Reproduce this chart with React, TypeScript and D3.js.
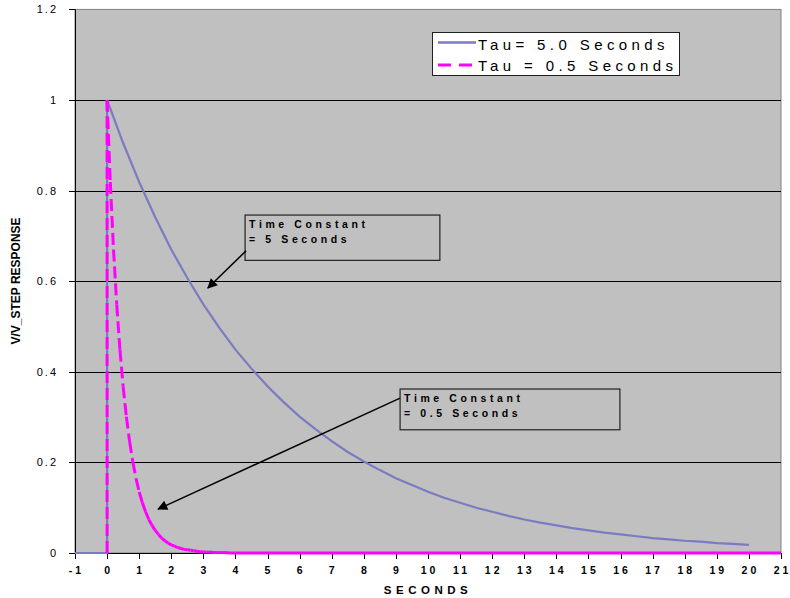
import React from "react";
import * as d3 from "d3";

// ---- data ----
const xTicks = [-1, 0, 1, 2, 3, 4, 5, 6, 7, 8, 9, 10, 11, 12, 13, 14, 15, 16, 17, 18, 19, 20, 21];
const yTicks = [0, 0.2, 0.4, 0.6, 0.8, 1, 1.2];
const yTickLabels = ["0", "0.2", "0.4", "0.6", "0.8", "1", "1.2"];

// Tau = 5.0 s series
const tau5X = [-1, 0, 0, 0.5, 1, 1.5, 2, 2.5, 3, 3.5, 4, 4.5, 5, 5.5, 6, 6.5, 7, 7.5, 8, 8.5, 9, 9.5, 10,
  10.5, 11, 11.5, 12, 12.5, 13, 13.5, 14, 14.5, 15, 15.5, 16, 16.5, 17, 17.5, 18, 18.5, 19, 19.5, 20];
const tau5Y = [0, 0, 1, 0.905, 0.819, 0.741, 0.67, 0.607, 0.549, 0.497, 0.449, 0.407, 0.368, 0.333, 0.301,
  0.273, 0.247, 0.223, 0.202, 0.183, 0.165, 0.15, 0.135, 0.122, 0.111, 0.1, 0.091, 0.082, 0.074, 0.067,
  0.061, 0.055, 0.05, 0.045, 0.041, 0.037, 0.033, 0.03, 0.027, 0.025, 0.022, 0.02, 0.018];

// Tau = 0.5 s series
const tau05X = [0, 0, 0.1, 0.2, 0.3, 0.4, 0.5, 0.6, 0.7, 0.8, 0.9, 1.0, 1.1, 1.2, 1.3, 1.4, 1.5, 1.6, 1.7,
  1.8, 1.9, 2.0, 2.1, 2.2, 2.3, 2.4, 2.5, 2.6, 2.7, 2.8, 2.9, 3.0, 3.1, 3.2, 3.3, 3.4, 3.5, 3.6, 3.7, 3.8,
  3.9, 4.0, 21];
const tau05Y = [0, 1, 0.819, 0.67, 0.549, 0.449, 0.368, 0.301, 0.247, 0.202, 0.165, 0.135, 0.111, 0.091,
  0.074, 0.061, 0.05, 0.041, 0.033, 0.027, 0.022, 0.018, 0.015, 0.012, 0.01, 0.008, 0.007, 0.006, 0.005,
  0.004, 0.003, 0.002, 0.002, 0.002, 0.001, 0.001, 0.001, 0.001, 0.001, 0, 0, 0, 0];

const seriesNames = ["Tau= 5.0 Seconds", "Tau = 0.5 Seconds"];
const seriesColors = ["#7b7bc2", "#ff00ff"];

// annotations in data units
const annotations = [
  { lines: ["Time Constant", "= 5 Seconds"], x0: 4.3, x1: 10.37, y0: 0.746, y1: 0.646, ax: 4.33, ay: 0.667, bx: 3.14, by: 0.585 },
  { lines: ["Time Constant", "= 0.5 Seconds"], x0: 9.13, x1: 15.98, y0: 0.362, y1: 0.272, ax: 9.13, ay: 0.342, bx: 1.59, by: 0.097 },
];

const W = 790;
const H = 598;
const L = 75, R = 781, T = 9.4, B = 553;

export default function App() {
  const x = d3.scaleLinear().domain([-1, 21]).range([L, R]);
  const y = d3.scaleLinear().domain([0, 1.2]).range([B, T]);
  const font = "'Liberation Sans', Arial, sans-serif";

  const line = d3.line<number>().x((d, i) => x(tau5X[i])).y((d) => y(d));

  // Excel restarts the dash pattern at every data point; emulate per segment.
  const magSegs: { x1: number; y1: number; x2: number; y2: number; dashed: boolean }[] = [];
  for (let i = 1; i < tau05X.length; i++) {
    const x1 = x(tau05X[i - 1]), y1 = y(tau05Y[i - 1]), x2 = x(tau05X[i]), y2 = y(tau05Y[i]);
    const flat = tau05Y[i - 1] === 0 && tau05Y[i] === 0;
    magSegs.push({ x1, y1, x2, y2, dashed: !flat });
  }

  return (
    <svg width={W} height={H} style={{ position: "absolute", left: 0, top: 0, background: "#fff" }} fontFamily={font}>
      <defs>
        <marker id="arr" viewBox="0 0 10 10" refX="9" refY="5" markerWidth="14" markerHeight="10" markerUnits="userSpaceOnUse" orient="auto">
          <path d="M0,0 L10,5 L0,10 z" fill="#000" />
        </marker>
      </defs>
      <rect x={L} y={T} width={R - L} height={B - T} fill="#c0c0c0" stroke="#808080" strokeWidth={1} />
      {yTicks.filter((v) => v > 0 && v < 1.2).map((v) => (
        <line key={v} x1={L} x2={R} y1={Math.round(y(v)) + 0.5} y2={Math.round(y(v)) + 0.5} stroke="#000" strokeWidth={1} />
      ))}
      {/* axes */}
      <line x1={L + 0.5} x2={L + 0.5} y1={T} y2={B} stroke="#000" strokeWidth={1} />
      <line x1={L} x2={R} y1={B + 0.5} y2={B + 0.5} stroke="#000" strokeWidth={1} />
      {yTicks.map((v, i) => (
        <g key={"yt" + v}>
          <line x1={L - 6} x2={L} y1={Math.round(y(v)) + 0.5} y2={Math.round(y(v)) + 0.5} stroke="#000" />
          <text x={58} y={y(v) + 4} textAnchor="end" fontSize={11} letterSpacing={2} fill="#000">{yTickLabels[i]}</text>
        </g>
      ))}
      {xTicks.map((v) => (
        <g key={"xt" + v}>
          <line x1={Math.round(x(v)) + 0.5} x2={Math.round(x(v)) + 0.5} y1={B} y2={B + 6} stroke="#000" />
          <text x={x(v) + 1.5} y={574} textAnchor="middle" fontSize={10.5} fontWeight="bold" letterSpacing={3} fill="#000">{String(v)}</text>
        </g>
      ))}
      <text x={428} y={594} textAnchor="middle" fontSize={11.5} fontWeight="bold" letterSpacing={4.5} fill="#000">SECONDS</text>
      <text transform={`translate(20,${281}) rotate(-90)`} textAnchor="middle" fontSize={12} fontWeight="bold" fill="#000">V/V_STEP RESPONSE</text>

      {/* series */}
      <path d={line(tau5Y) || ""} fill="none" stroke={seriesColors[0]} strokeWidth={2.2} />
      {magSegs.map((s, i) => (
        <line key={"m" + i} x1={s.x1} y1={s.y1} x2={s.x2} y2={s.y2} stroke={seriesColors[1]} strokeWidth={3}
          strokeDasharray={s.dashed ? "12,5" : undefined} />
      ))}

      {/* annotations */}
      {annotations.map((a, i) => (
        <g key={"an" + i}>
          <rect x={x(a.x0)} y={y(a.y0)} width={x(a.x1) - x(a.x0)} height={y(a.y1) - y(a.y0)} fill="none" stroke="#222" strokeWidth={1.2} />
          {a.lines.map((t, j) => (
            <text key={j} x={x(a.x0) + 4} y={y(a.y0) + 13 + j * 15} fontSize={10.5} fontWeight="bold" letterSpacing={3.6} fill="#000">{t}</text>
          ))}
          <line x1={x(a.ax)} y1={y(a.ay)} x2={x(a.bx)} y2={y(a.by)} stroke="#000" strokeWidth={1.5} markerEnd="url(#arr)" />
        </g>
      ))}

      {/* legend */}
      <g>
        <rect x={432.5} y={32.5} width={247} height={43} fill="#fff" stroke="#222" strokeWidth={1} />
        <line x1={438} x2={476} y1={42.5} y2={42.5} stroke={seriesColors[0]} strokeWidth={2.5} />
        <line x1={438} x2={476} y1={65} y2={65} stroke={seriesColors[1]} strokeWidth={3} strokeDasharray="13,8" />
        <text x={478} y={50} fontSize={15} letterSpacing={4.4} fill="#000">{seriesNames[0]}</text>
        <text x={478} y={71} fontSize={15} letterSpacing={4.4} fill="#000">{seriesNames[1]}</text>
      </g>
    </svg>
  );
}
